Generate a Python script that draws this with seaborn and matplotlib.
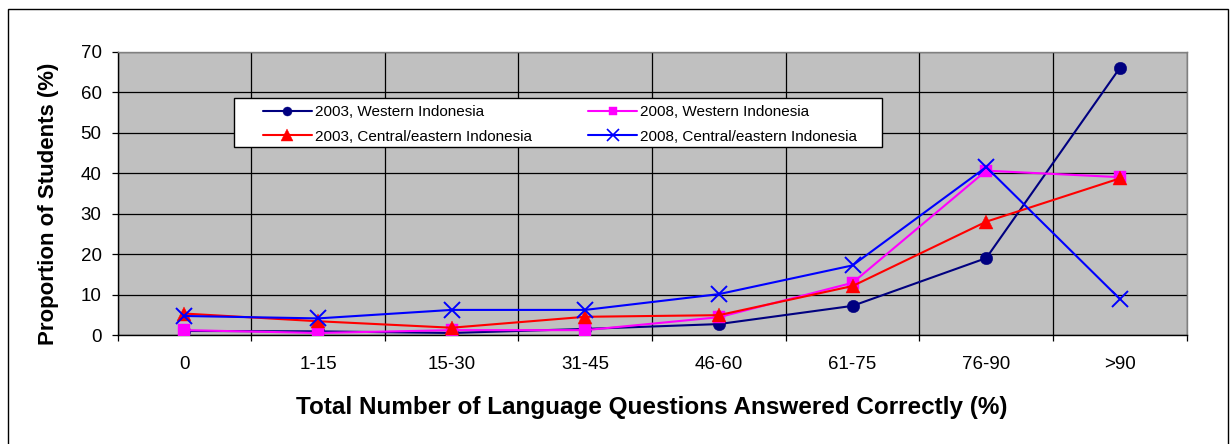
import matplotlib
matplotlib.use("Agg")
import matplotlib.pyplot as plt
from matplotlib.patches import Rectangle
from matplotlib.ticker import FixedLocator, NullFormatter
import numpy as np
import pandas as pd
import seaborn as sns

# Score bands and proportion of students in each band
categories = ["0", "1-15", "15-30", "31-45", "46-60", "61-75", "76-90", ">90"]
west_2003 = [1.0, 0.9, 0.5, 1.5, 2.7, 7.2, 19.0, 66.0]
west_2008 = [1.2, 0.5, 1.2, 1.2, 4.4, 12.9, 40.6, 39.0]
central_2003 = [5.3, 3.4, 1.8, 4.5, 4.9, 12.1, 28.0, 38.7]
central_2008 = [4.7, 4.1, 6.2, 6.2, 10.1, 17.2, 41.5, 8.9]

series_names = ["2003, Western Indonesia", "2003, Central/eastern Indonesia",
                "2008, Western Indonesia", "2008, Central/eastern Indonesia"]
series_values = [west_2003, central_2003, west_2008, central_2008]

rows = []
for name, vals in zip(series_names, series_values):
    for i, (cat, v) in enumerate(zip(categories, vals)):
        rows.append({"band": i, "label": cat, "series": name, "value": v})
df = pd.DataFrame(rows)

sns.set_theme(style="white")
plt.rcParams["font.family"] = ["Liberation Sans", "DejaVu Sans"]
plt.rcParams.update({"text.color": "black", "axes.labelcolor": "black",
                     "xtick.color": "black", "ytick.color": "black"})

W, H = 1230, 444
fig = plt.figure(figsize=(W / 100, H / 100), dpi=100)
fig.patch.set_facecolor("white")
left, right, top, bottom = 117.5, 1186.7, 51.7, 335.0
ax = fig.add_axes([left / W, 1 - bottom / H, (right - left) / W, (bottom - top) / H])
ax.set_facecolor("#C0C0C0")

palette = {
    "2003, Western Indonesia": "#000080",
    "2003, Central/eastern Indonesia": "#FF0000",
    "2008, Western Indonesia": "#FF00FF",
    "2008, Central/eastern Indonesia": "#0000FF",
}
markers = {
    "2003, Western Indonesia": "o",
    "2003, Central/eastern Indonesia": "^",
    "2008, Western Indonesia": "s",
    "2008, Central/eastern Indonesia": "x",
}
sizes = {"o": 9.0, "^": 10.5, "s": 8.6, "x": 11.0}

# Plot order sets which markers sit on top where series overlap
draw_order = ["2003, Western Indonesia", "2008, Western Indonesia",
              "2003, Central/eastern Indonesia", "2008, Central/eastern Indonesia"]
for name in draw_order:
    sub = df[df["series"] == name]
    m = markers[name]
    sns.lineplot(data=sub, x="band", y="value", ax=ax, color=palette[name],
                 marker=m, markersize=sizes[m], markeredgecolor=palette[name],
                 markeredgewidth=1.4 if m == "x" else 0.3,
                 linewidth=1.5, legend=False, zorder=3)

ax.set_xlim(-0.5, len(categories) - 0.5)
ax.set_ylim(0, 70)
ax.set_yticks(np.arange(0, 71, 10))
ax.yaxis.grid(True, color="black", linewidth=0.9)
ax.set_xticks(range(len(categories)))
ax.set_xticklabels(categories)
ax.xaxis.set_minor_locator(FixedLocator(np.arange(-0.5, len(categories), 1.0)))
ax.xaxis.set_minor_formatter(NullFormatter())
ax.xaxis.grid(True, which="minor", color="black", linewidth=0.9)
ax.xaxis.grid(False, which="major")
ax.set_axisbelow(True)

ax.tick_params(axis="x", which="major", length=0, pad=15, labelsize=13.5, colors="black")
ax.tick_params(axis="x", which="minor", length=4.5, width=0.9, color="black", direction="out", bottom=True)
ax.tick_params(axis="y", length=4.5, width=0.9, color="black", labelcolor="black",
               direction="out", left=True, pad=7, labelsize=13.5)

for side in ["top", "right"]:
    ax.spines[side].set_color("#808080")
    ax.spines[side].set_linewidth(1.0)
for side in ["left", "bottom"]:
    ax.spines[side].set_color("black")
    ax.spines[side].set_linewidth(1.0)

xl = ax.set_xlabel("Total Number of Language Questions Answered Correctly (%)",
                   fontsize=17.5, fontweight="bold", color="black")
xl.set_va("center")
ax.xaxis.set_label_coords(0.5, (bottom - 407) / (bottom - top))
yl = ax.set_ylabel("Proportion of Students (%)", fontsize=16, fontweight="bold", color="black")
yl.set_va("center")
ax.yaxis.set_label_coords((48 - left) / (right - left), (bottom - 203.5) / (bottom - top))

handles, labels = [], []
for name in series_names:
    m = markers[name]
    h = plt.Line2D([], [], color=palette[name], marker=m, markersize=sizes[m] - 2.5,
                   markeredgecolor=palette[name], markeredgewidth=1.2 if m == "x" else 0.3,
                   linewidth=1.5)
    handles.append(h)
    labels.append(name)
leg = fig.legend(handles, labels, ncol=2, loc="upper left",
                 bbox_to_anchor=(263 / W, 1 - 105.5 / H), borderaxespad=0,
                 frameon=False, fontsize=11, handlelength=3.2, columnspacing=3.7,
                 labelspacing=0.66, borderpad=0, handletextpad=0.2, labelcolor="black")

# Legend box and outer chart frame
fig.patches.append(Rectangle((234 / W, 1 - 147.3 / H), (882 - 234) / W, 49 / H,
                             transform=fig.transFigure, facecolor="white",
                             edgecolor="black", linewidth=1.0, zorder=2.5))
leg.set_zorder(5)
fig.patches.append(Rectangle((8 / W, -0.05), (1228 - 8) / W, 1 - 9 / H + 0.05,
                             transform=fig.transFigure, fill=False,
                             edgecolor="black", linewidth=1.0, clip_on=False))

fig.savefig("out.png", dpi=100)
